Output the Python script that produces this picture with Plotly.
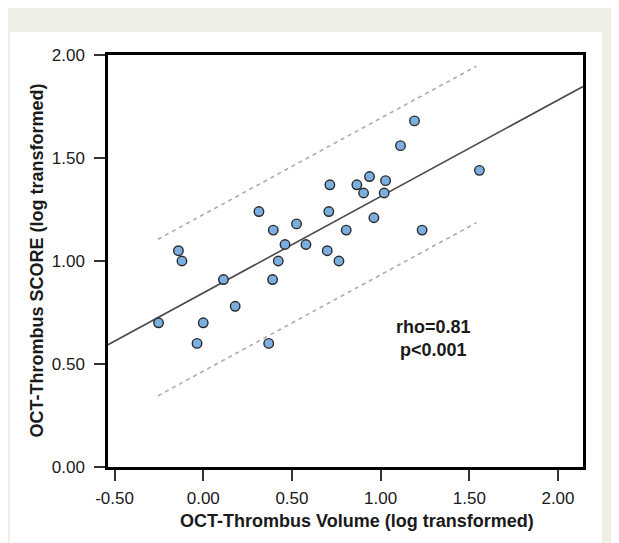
import plotly.graph_objects as go

# Data
volume_log = [-0.252, -0.14, -0.12, -0.035, 0.0, 0.114, 0.18, 0.314, 0.369, 0.391,
              0.395, 0.423, 0.461, 0.526, 0.579, 0.699, 0.708, 0.714, 0.765, 0.806,
              0.866, 0.904, 0.9375, 0.962, 1.02, 1.028, 1.112, 1.191, 1.234, 1.557]
score_log = [0.70, 1.05, 1.00, 0.60, 0.70, 0.91, 0.78, 1.24, 0.60, 0.91,
             1.15, 1.00, 1.08, 1.18, 1.08, 1.05, 1.24, 1.37, 1.00, 1.15,
             1.37, 1.33, 1.41, 1.21, 1.33, 1.39, 1.56, 1.68, 1.15, 1.44]

fit_intercept = 0.845
fit_slope = 0.468
interval_halfwidth = 0.38

fit_x = [-0.537, 2.141]
interval_x = [-0.255, 1.54]

x_tickvals = [-0.5, 0.0, 0.5, 1.0, 1.5, 2.0]
x_ticktext = ["-0.50", "0.00", "0.50", "1.00", "1.50", "2.00"]
y_tickvals = [0.0, 0.5, 1.0, 1.5, 2.0]
y_ticktext = ["0.00", "0.50", "1.00", "1.50", "2.00"]

fit_y = [fit_intercept + fit_slope * x for x in fit_x]
upper_y = [fit_intercept + fit_slope * x + interval_halfwidth for x in interval_x]
lower_y = [fit_intercept + fit_slope * x - interval_halfwidth for x in interval_x]

FONT = "Liberation Sans, Arial, sans-serif"

fig = go.Figure()
fig.add_trace(go.Scatter(x=interval_x, y=upper_y, mode="lines",
                         line=dict(color="#ababab", width=1.6, dash="4px,4px"),
                         hoverinfo="skip", showlegend=False))
fig.add_trace(go.Scatter(x=interval_x, y=lower_y, mode="lines",
                         line=dict(color="#ababab", width=1.6, dash="4px,4px"),
                         hoverinfo="skip", showlegend=False))
fig.add_trace(go.Scatter(x=fit_x, y=fit_y, mode="lines",
                         line=dict(color="#4a4a4a", width=1.6),
                         hoverinfo="skip", showlegend=False))
fig.add_trace(go.Scatter(x=volume_log, y=score_log, mode="markers",
                         marker=dict(size=9.5, color="#7bafe0",
                                     line=dict(color="#2a2a2a", width=1.4)),
                         showlegend=False))

# white inner panel (paper coordinates)
fig.add_shape(type="rect", xref="paper", yref="paper", x0=-0.2063, x1=1.04,
              y0=-0.2, y1=1.0558, fillcolor="white", line_width=0, layer="below")

fig.add_annotation(x=1.30, y=0.625, xref="x", yref="y",
                   text="<b>rho=0.81<br>p<0.001</b>", showarrow=False,
                   font=dict(family=FONT, size=18, color="#1a1a1a"), align="center")
fig.add_annotation(x=0.524, y=-0.131, xref="paper", yref="paper",
                   text="<b>OCT-Thrombus Volume (log transformed)</b>", showarrow=False,
                   font=dict(family=FONT, size=18, color="#1a1a1a"), yanchor="middle")
fig.add_annotation(x=-0.149, y=0.502, xref="paper", yref="paper",
                   text="<b>OCT-Thrombus SCORE (log transformed)</b>", showarrow=False,
                   textangle=-90,
                   font=dict(family=FONT, size=18, color="#1a1a1a"), xanchor="center")

fig.update_xaxes(range=[-0.537, 2.141], tickvals=x_tickvals, ticktext=x_ticktext,
                 showgrid=False, zeroline=False, showline=True, mirror=True,
                 linecolor="black", linewidth=2.5, ticks="outside", ticklen=11,
                 tickwidth=1.5, tickcolor="#333", ticklabelstandoff=3,
                 tickfont=dict(family=FONT, size=17, color="#1a1a1a"))
fig.update_yaxes(range=[0, 2], tickvals=y_tickvals, ticktext=y_ticktext,
                 showgrid=False, zeroline=False, showline=True, mirror=True,
                 linecolor="black", linewidth=2.5, ticks="outside", ticklen=11,
                 tickwidth=1.5, tickcolor="#333", ticklabelstandoff=6,
                 tickfont=dict(family=FONT, size=17, color="#1a1a1a"))

fig.update_layout(width=611, height=535,
                  margin=dict(l=100, r=36, t=47, b=76),
                  paper_bgcolor="#f0efe5", plot_bgcolor="white",
                  showlegend=False)

fig.write_html("out.html")
